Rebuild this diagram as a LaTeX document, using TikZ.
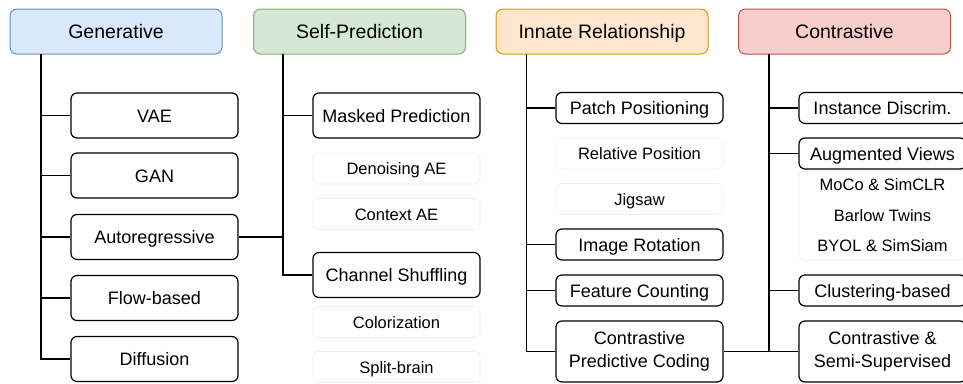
\documentclass[tikz,border=0pt]{standalone}
\usepackage{fontspec}
\setmainfont{Liberation Sans}
\usepackage{tikz}
\usetikzlibrary{calc}

\definecolor{genfill}{HTML}{DAE8FC}\definecolor{gendraw}{HTML}{6C8EBF}
\definecolor{selffill}{HTML}{D5E8D4}\definecolor{selfdraw}{HTML}{82B366}
\definecolor{innfill}{HTML}{FFE6CC}\definecolor{inndraw}{HTML}{D79B00}
\definecolor{confill}{HTML}{F8CECC}\definecolor{condraw}{HTML}{B85450}
\definecolor{faint}{HTML}{EEEEEE}

\begin{document}
\begin{tikzpicture}[x=1pt, y=-1pt,
	head/.style={draw, line width=1pt, rounded corners=7pt, minimum width=212pt, minimum height=45pt, inner sep=0pt, text height=14pt, text depth=0pt, font=\fontsize{19.5}{23}\selectfont},
	item/.style={draw, line width=1.2pt, rounded corners=6pt, minimum width=167pt, minimum height=45pt, inner sep=0pt, align=center, text height=13pt, text depth=0pt, font=\fontsize{18}{23}\selectfont},
	small/.style={item, minimum height=31pt},
	twoline/.style={item, minimum height=61pt, text height=, text depth=},
	faintbox/.style={draw=faint, line width=0.6pt, rounded corners=5pt, minimum width=167pt, minimum height=31pt, inner sep=0pt, align=center, text height=12pt, text depth=0pt, font=\fontsize{16.5}{30.5}\selectfont},
	link/.style={line width=1.2pt}
]
\useasboundingbox (0,0) rectangle (963,383);

\node[head, fill=genfill, draw=gendraw] (gen) at (116,31.5) {Generative};
\node[head, fill=selffill, draw=selfdraw] (self) at (359.5,31.5) {Self-Prediction};
\node[head, fill=innfill, draw=inndraw] (inn) at (602,31.5) {Innate Relationship};
\node[head, fill=confill, draw=condraw] (con) at (844.5,31.5) {Contrastive};

\node[item] (vae) at (154.5,115.5) {VAE};
\node[item] (gan) at (154.5,175.5) {GAN};
\node[item] (ar) at (154.5,237) {Autoregressive};
\node[item] (flow) at (154.5,298) {Flow-based};
\node[item] (diff) at (154.5,359) {Diffusion};

\node[item] (mp) at (396.5,115.5) {Masked Prediction};
\node[faintbox] (dae) at (396.5,168.5) {Denoising AE};
\node[faintbox] (cae) at (396.5,214) {Context AE};
\node[item] (chs) at (396.5,275) {Channel Shuffling};
\node[faintbox] (col) at (396.5,322) {Colorization};
\node[faintbox] (sb) at (396.5,367) {Split-brain};

\node[small] (pp) at (639.5,108) {Patch Positioning};
\node[faintbox] (rp) at (639.5,153.5) {Relative Position};
\node[faintbox] (jig) at (639.5,199) {Jigsaw};
\node[small] (rot) at (639.5,244.5) {Image Rotation};
\node[small] (fc) at (639.5,290.5) {Feature Counting};
\node[twoline] (cpc) at (639.5,351.5) {Contrastive\\Predictive Coding};

\node[small] (id) at (882.5,108) {Instance Discrim.};
\node[small] (av) at (882.5,153.5) {Augmented Views};
\node[faintbox, minimum height=89pt, text height=, text depth=] (aug) at (882.5,215.5) {MoCo \& SimCLR\\Barlow Twins\\BYOL \& SimSiam};
\node[small] (cb) at (882.5,290.5) {Clustering-based};
\node[twoline] (css) at (882.5,351.5) {Contrastive \&\\Semi-Supervised};

\coordinate (gt) at (41,54);
\coordinate (st) at (283,54);
\coordinate (it) at (526.5,54);
\coordinate (ct) at (769,54);

\draw[link] (gt) |- (diff.west);
\foreach \n in {vae,gan,ar,flow} \draw[link] (\n.west) -- (\n.west -| gt);
\draw[link] (st) |- (chs.west);
\draw[link] (mp.west) -- (mp.west -| st);
\draw[link] (ar.east) -- (ar.east -| st);
\draw[link] (it) |- (cpc.west);
\foreach \n in {pp,rot,fc} \draw[link] (\n.west) -- (\n.west -| it);
\draw[link] (ct) |- (css.west);
\foreach \n in {id,av,cb} \draw[link] (\n.west) -- (\n.west -| ct);
\draw[link] (cpc.east) -- (cpc.east -| ct);
\end{tikzpicture}
\end{document}
